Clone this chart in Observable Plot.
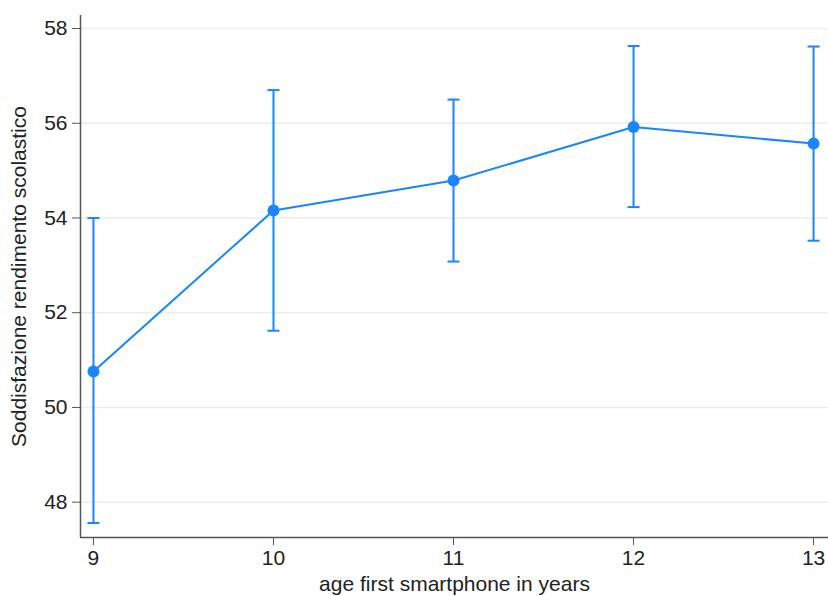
<!DOCTYPE html>
<html><head><meta charset="utf-8">
<script src="https://cdn.jsdelivr.net/npm/d3@7"></script>
<script src="https://cdn.jsdelivr.net/npm/@observablehq/plot@0.6"></script>
<style>body{margin:0;background:#fff;} svg{font-family:"Liberation Sans",Arial,sans-serif;}</style>
</head><body><div id="chart"></div>
<script>
const ages = [9, 10, 11, 12, 13];
const means = [50.76, 54.16, 54.79, 55.92, 55.57];
const lower = [47.56, 51.62, 53.08, 54.23, 53.52];
const upper = [54.00, 56.70, 56.50, 57.63, 57.62];
const yTicks = [48, 50, 52, 54, 56, 58];
const xTicks = [9, 10, 11, 12, 13];
const yLabel = "Soddisfazione rendimento scolastico";
const xLabel = "age first smartphone in years";

const data = ages.map((a, i) => ({age: a, mean: means[i], lo: lower[i], hi: upper[i]}));
const color = "#1a85ff";
const xDomain = [8.928, 13.083];
const yDomain = [47.254, 58.275];
const cap = {draw(ctx, size) { const w = 6; ctx.moveTo(-w, 0); ctx.lineTo(w, 0); }};

const chart = Plot.plot({
  width: 828, height: 596,
  marginLeft: 80, marginRight: 0, marginTop: 15, marginBottom: 59,
  style: {fontSize: "21px", fontFamily: "'Liberation Sans', Arial, sans-serif", color: "#222"},
  x: {domain: xDomain},
  y: {domain: yDomain},
  marks: [
    Plot.gridY(yTicks, {stroke: "#e8eef2", strokeOpacity: 1, strokeWidth: 1.5}),
    Plot.ruleX([xDomain[0]], {stroke: "#555", strokeWidth: 1.5}),
    Plot.ruleY([yDomain[0]], {stroke: "#555", strokeWidth: 1.5}),
    Plot.axisY(yTicks, {tickSize: 8, tickPadding: 5, stroke: "#555", fontSize: 21, tickFormat: "d",
      label: yLabel, labelAnchor: "center", labelOffset: 69, labelArrow: "none"}),
    Plot.axisX(xTicks, {tickSize: 8, tickPadding: 5, stroke: "#555", fontSize: 21, tickFormat: "d",
      label: xLabel, labelAnchor: "center", labelOffset: 53, labelArrow: "none"}),
    Plot.ruleX(data, {x: "age", y1: "lo", y2: "hi", stroke: color, strokeWidth: 2}),
    Plot.dot(data, {x: "age", y: "lo", symbol: cap, stroke: color, strokeWidth: 2, r: 4}),
    Plot.dot(data, {x: "age", y: "hi", symbol: cap, stroke: color, strokeWidth: 2, r: 4}),
    Plot.line(data, {x: "age", y: "mean", stroke: color, strokeWidth: 2}),
    Plot.dot(data, {x: "age", y: "mean", fill: color, r: 6})
  ]
});
document.getElementById("chart").appendChild(chart);
</script></body></html>
